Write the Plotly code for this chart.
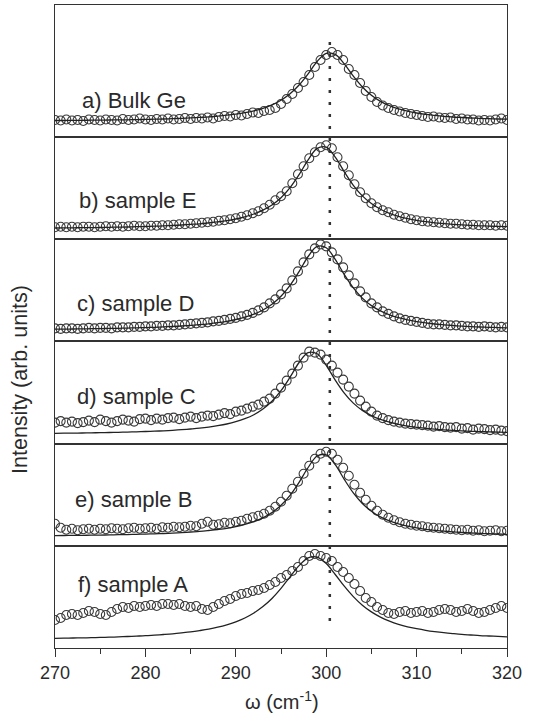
import numpy as np
import plotly.graph_objects as go
from plotly.subplots import make_subplots

# ---------------- data (intensity in arbitrary units) ----------------
omega_range = [270, 320]
ref_omega = 300.4            # dotted reference line (bulk Ge phonon)

panel_labels = ["a) Bulk Ge", "b) sample E", "c) sample D",
                "d) sample C", "e) sample B", "f) sample A"]

# measured spectra (open circles), evenly sampled 270..320 cm^-1
data_a = [17, 16.5, 17.5, 16.5, 17, 16, 17.5, 17, 16.5, 17.5,
          17, 16.5, 18, 17, 17.5, 18.5, 17.5, 17, 18, 17.5,
          18.5, 17.5, 18, 19, 18, 19, 18.5, 19.5, 18.5, 20,
          21, 20.5, 22, 21.5, 23, 24.5, 24, 26, 27, 29,
          33, 38, 43, 49, 55, 62, 70, 77, 82, 85,
          82, 77, 68, 62, 54, 46, 40, 35, 31.5, 29,
          27, 25.5, 24, 23, 22, 21, 20, 20.5, 19.5, 19,
          19.5, 18, 18.5, 17.5, 17.5, 16.5, 17, 16.5, 17.5, 18.5,
          17]
data_b = [12, 12.5, 12, 12.5, 12, 12.5, 12.5, 12, 12.5, 13,
          12.5, 13, 12.5, 13, 13.5, 13, 13, 13.5, 13.5, 14,
          14, 14.5, 15, 15, 15.5, 16, 16.5, 17, 17.5, 18.5,
          19, 20, 21, 22.5, 24, 26, 28, 31, 34.5, 39,
          43, 48, 56, 65, 73, 81, 87, 92, 94, 91,
          82, 73, 64, 55, 47, 41, 36, 32, 29, 27,
          24.5, 23, 21.5, 20, 19, 18, 17.5, 17, 16.5, 16,
          15.5, 15.5, 15, 14.5, 14.5, 14, 14, 14, 13.5, 14,
          13.5]
data_c = [13, 12.5, 13, 13, 12.5, 13, 13.5, 13, 13.5, 13.5,
          13, 14, 14, 14, 14.5, 14.5, 15, 15, 15.5, 15.5,
          16, 16, 16.5, 17, 17.5, 18, 18.5, 19, 20, 20.5,
          21.5, 22.5, 23.5, 25, 26.5, 28.5, 31, 34, 38, 42,
          47, 53, 61, 70, 79, 87, 93, 97, 95, 89,
          82, 74, 66, 58, 50, 44, 38, 34, 30, 27.5,
          25, 23, 21.5, 20.5, 19.5, 18.5, 17.5, 17, 17, 16.5,
          16, 16, 15.5, 15, 15, 14.5, 15, 14.5, 14, 14.5,
          14]
data_d = [21, 22.5, 21, 22, 20.5, 21.5, 23, 21.5, 24, 22.5,
          21, 22.5, 24, 23, 22, 24.5, 25, 23.5, 25, 24,
          25.5, 26, 24.5, 26, 27, 25.5, 27, 28, 27.5, 29,
          30.5, 29.5, 32, 33, 35, 37, 39, 42, 45, 50,
          56, 63, 70, 78, 86, 92, 91, 89, 84, 78,
          71, 64, 57, 50, 43, 37, 32, 28, 25.5, 23.5,
          22, 21, 20, 19.5, 19, 18.5, 18, 17, 17.5, 16.5,
          16, 16.5, 15, 15.5, 14, 15, 14.5, 13.5, 14, 13,
          12.5]
data_e = [22, 18, 16, 17, 15.5, 16.5, 17, 16, 17, 16.5,
          17.5, 17, 16.5, 17.5, 18, 17, 17.5, 18, 17, 18.5,
          18, 19, 18.5, 19, 20, 19.5, 22, 24, 21, 21.5,
          23, 22.5, 24, 25, 27, 28.5, 30, 32, 35, 39,
          44, 50, 57, 64, 72, 80, 87, 92, 94, 92,
          86, 78, 70, 61, 53, 46, 40, 35, 31, 28,
          25.5, 23.5, 22, 21, 20, 19.5, 18.5, 18, 17.5, 17,
          16.5, 16, 15.5, 16, 15, 15.5, 14.5, 15, 15.5, 14.5,
          15]
data_f = [28, 30, 33, 34, 33, 35, 37, 36, 34, 33,
          36, 39, 41, 40, 42, 41, 42, 43, 42, 44,
          44, 43, 44, 42, 41, 42, 39, 38, 41, 44,
          47, 49, 52, 54, 55, 57, 58, 60, 63, 66,
          70, 73, 77, 81, 87, 92, 94, 92, 90, 87,
          81, 76, 70, 64, 57, 50, 46, 41, 38, 35,
          34, 36, 37, 35, 36, 37, 35, 36, 38, 39,
          38, 36, 37, 39, 37, 35, 36, 38, 40, 42,
          40]

# fitted curves (solid lines), sampled every 1 cm^-1 from 270 to 320
fit_a = [16.5, 16.5, 16.6, 16.7, 16.8, 16.9, 17.0, 17.1, 17.2, 17.4,
         17.6, 17.8, 18.0, 18.3, 18.7, 19.1, 19.6, 20.1, 20.9, 21.8,
         22.9, 24.3, 26.2, 28.7, 32.1, 36.8, 43.2, 52.0, 63.2, 75.5,
         83.7, 82.6, 73.1, 60.8, 50.0, 41.7, 35.6, 31.3, 28.1, 25.8,
         24.0, 22.6, 21.6, 20.7, 20.0, 19.5, 19.0, 18.6, 18.3, 18.0,
         17.8]
fit_b = [11.2, 11.3, 11.4, 11.5, 11.6, 11.7, 11.9, 12.1, 12.2, 12.5,
         12.7, 13.0, 13.3, 13.7, 14.2, 14.8, 15.4, 16.3, 17.3, 18.5,
         20.2, 22.4, 25.2, 29.0, 34.2, 41.5, 51.5, 64.5, 79.3, 90.8,
         92.0, 82.1, 67.4, 53.9, 43.3, 35.6, 29.9, 25.9, 22.9, 20.6,
         18.9, 17.5, 16.4, 15.6, 14.9, 14.3, 13.8, 13.4, 13.1, 12.8,
         12.5]
fit_c = [12.3, 12.3, 12.4, 12.5, 12.7, 12.8, 13.0, 13.1, 13.3, 13.6,
         13.8, 14.1, 14.5, 14.9, 15.4, 16.0, 16.7, 17.6, 18.7, 20.1,
         21.9, 24.2, 27.2, 31.4, 37.2, 45.1, 56.0, 69.8, 84.9, 95.0,
         93.7, 82.0, 66.8, 53.5, 43.3, 35.8, 30.5, 26.6, 23.7, 21.5,
         19.8, 18.5, 17.4, 16.6, 15.9, 15.3, 14.8, 14.4, 14.1, 13.8,
         13.5]
fit_d = [10.3, 10.4, 10.5, 10.6, 10.8, 10.9, 11.1, 11.3, 11.5, 11.8,
         12.1, 12.4, 12.8, 13.3, 13.9, 14.6, 15.4, 16.5, 17.9, 19.6,
         21.9, 24.9, 28.9, 34.6, 42.3, 52.9, 66.4, 81.1, 91.0, 89.8,
         78.3, 63.5, 50.5, 40.5, 33.2, 28.0, 24.2, 21.4, 19.2, 17.5,
         16.3, 15.3, 14.4, 13.8, 13.2, 12.7, 12.3, 12.0, 11.7, 11.5,
         11.2]
fit_e = [10.2, 10.3, 10.4, 10.5, 10.6, 10.7, 10.9, 11.1, 11.2, 11.5,
         11.7, 12.0, 12.3, 12.7, 13.2, 13.8, 14.4, 15.3, 16.3, 17.5,
         19.2, 21.4, 24.2, 28.0, 33.2, 40.5, 50.5, 63.5, 78.3, 89.8,
         91.0, 81.1, 66.4, 52.9, 42.3, 34.6, 28.9, 24.9, 21.9, 19.6,
         17.9, 16.5, 15.4, 14.6, 13.9, 13.3, 12.8, 12.4, 12.1, 11.8,
         11.5]
fit_f = [9.6, 9.8, 10.0, 10.1, 10.3, 10.6, 10.8, 11.1, 11.5, 11.9,
         12.3, 12.9, 13.5, 14.2, 15.1, 16.1, 17.4, 18.9, 20.8, 23.2,
         26.2, 30.0, 35.0, 41.4, 49.5, 59.6, 71.2, 82.4, 90.1, 90.9,
         84.4, 73.5, 61.8, 51.4, 42.8, 36.1, 30.9, 26.9, 23.7, 21.2,
         19.3, 17.7, 16.4, 15.3, 14.4, 13.6, 13.0, 12.4, 12.0, 11.6,
         11.2]

x_ticks = [270, 280, 290, 300, 310, 320]
# ---------------------------------------------------------------------------------------

datasets = [data_a, data_b, data_c, data_d, data_e, data_f]
fits = [fit_a, fit_b, fit_c, fit_d, fit_e, fit_f]

panel_h = [132, 102.2, 102.2, 102.2, 102.2, 102.2]
label_pos = [(272.8, 37), (272.4, 39), (272.2, 38), (272.2, 47), (272.0, 46), (272.3, 64)]

FONT = "Liberation Sans, Arial, Helvetica, sans-serif"
INK = "#2a2a2a"

fig = make_subplots(rows=6, cols=1, shared_xaxes=True, vertical_spacing=0,
                    row_heights=panel_h)

for i in range(6):
    r = i + 1
    dat = datasets[i]
    fit = fits[i]
    xd = np.linspace(omega_range[0], omega_range[1], len(dat))
    xf = np.linspace(omega_range[0], omega_range[1], len(fit))
    fig.add_trace(go.Scatter(
        x=xd, y=dat, mode="markers",
        marker=dict(symbol="circle-open", size=9, color="#3a3a3a",
                    line=dict(width=1.1, color="#3a3a3a")),
        hoverinfo="skip"), row=r, col=1)
    fig.add_trace(go.Scatter(
        x=xf, y=fit, mode="lines",
        line=dict(color="#222", width=1.3, shape="spline"),
        hoverinfo="skip"), row=r, col=1)
    fig.update_yaxes(range=[0, panel_h[i]], row=r, col=1)
    lx, ly = label_pos[i]
    sfx = "" if r == 1 else str(r)
    fig.add_annotation(x=lx, y=ly, xref="x" + sfx, yref="y" + sfx,
                       text=panel_labels[i], showarrow=False,
                       xanchor="left", yanchor="middle",
                       font=dict(family=FONT, size=22, color=INK))

fig.update_yaxes(showticklabels=False, ticks="", showgrid=False, zeroline=False,
                 showline=True, mirror=True, linecolor="#333", linewidth=1.4)
fig.update_xaxes(range=omega_range, showgrid=False, zeroline=False,
                 showline=True, mirror=True, linecolor="#333", linewidth=1.4,
                 ticks="")
fig.update_xaxes(row=6, col=1, ticks="outside", ticklen=8, tickwidth=1.3,
                 tickcolor="#333", tickvals=x_ticks, showticklabels=True,
                 tickfont=dict(family=FONT, size=18, color=INK),
                 minor=dict(dtick=5, tick0=270, ticks="outside", ticklen=5,
                            tickwidth=1.3, tickcolor="#333"))

# dotted reference line spanning the stack
dom_top = fig.layout.yaxis.domain
dom_bot = fig.layout.yaxis6.domain
y_top = dom_top[0] + (104 / panel_h[0]) * (dom_top[1] - dom_top[0])
y_bot = dom_bot[0] + (27 / panel_h[5]) * (dom_bot[1] - dom_bot[0])
fig.add_shape(type="line", xref="x", yref="paper", x0=ref_omega, x1=ref_omega,
              y0=y_bot, y1=y_top, line=dict(color="#333", width=2.5, dash="3px,9px"))

fig.add_annotation(x=-0.078, y=0.418, xref="paper", yref="paper",
                   text="Intensity (arb. units)", textangle=-90, showarrow=False,
                   xanchor="center", yanchor="middle",
                   font=dict(family=FONT, size=21.5, color=INK))
fig.add_annotation(x=0.502, y=-0.081, xref="paper", yref="paper",
                   text="ω (cm<sup>-1</sup>)", showarrow=False,
                   xanchor="center", yanchor="middle",
                   font=dict(family=FONT, size=20, color=INK))

fig.update_layout(width=533, height=716, showlegend=False,
                  margin=dict(l=55, r=26, t=5, b=68),
                  plot_bgcolor="white", paper_bgcolor="white",
                  font=dict(family=FONT, color=INK))

fig.write_html("out.html")
